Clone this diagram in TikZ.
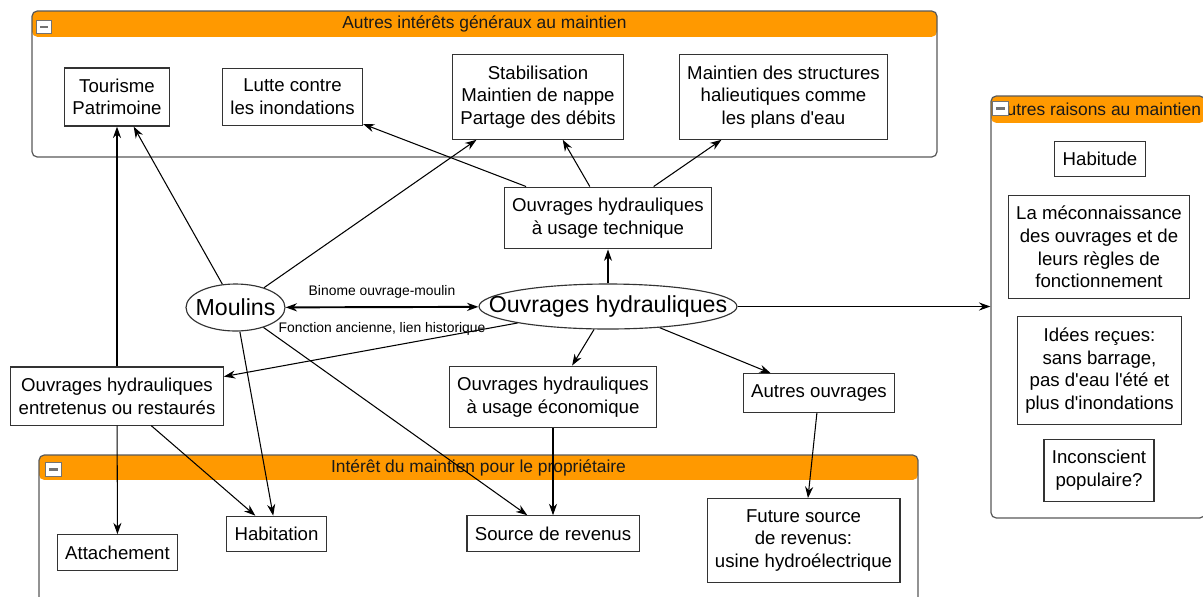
\documentclass[tikz,border=0pt]{standalone}
\usepackage{fontspec}
\setmainfont{Liberation Sans}
\usepackage{xcolor}
\usepackage{tikz}
\usetikzlibrary{arrows.meta,shapes.geometric,fit}

\definecolor{hdr}{RGB}{255,153,0}

\begin{document}
\begin{tikzpicture}[
x=0.02cm, y=-0.02cm,
>={Stealth[length=6.5pt,width=4.6pt]},
every node/.style={font=\fontsize{10.6}{12.9}\selectfont},
box/.style={rectangle,draw=black!80,line width=0.65pt,fill=white,align=center,inner xsep=4.5pt,inner ysep=6.2pt},
oval/.style={ellipse,draw=black!80,line width=0.65pt,fill=white,inner sep=-30pt,font=\fontsize{13.2}{15}\selectfont},
panel/.style={draw=black!65,line width=0.7pt,rounded corners=3pt,inner sep=0pt,fill=white,
  path picture={\fill[hdr] (path picture bounding box.north west) rectangle ([yshift=-#1]path picture bounding box.north east);}},
panel/.default=14.7pt,
heading/.style={font=\fontsize{9.9}{12}\selectfont,text=black!90},
collapse/.style={draw=black!55,fill=white,minimum width=8.8pt,minimum height=7.6pt,inner sep=0pt,
  path picture={\draw[line width=1.6pt] ([xshift=2pt]path picture bounding box.west) -- ([xshift=-2pt]path picture bounding box.east);}},
edgetext/.style={font=\fontsize{7.9}{9.5}\selectfont},
link/.style={->,line width=0.6pt}
]

\clip (0,0) rectangle (1203,596);

% Groups
\node[panel] (interets) [fit={(32,11) (937,157)}] {};
\node[heading] (interets-t) at (484.5,24) {Autres intérêts généraux au maintien};
\node[collapse] (interets-c) at (44,27) {};

\node[panel=15.3pt] (raisons) [fit={(991,96) (1205,518)}] {};
\node[heading] (raisons-t) at (1098,109.5) {Autres raisons au maintien};
\node[collapse] (raisons-c) at (1000.5,108.5) {};

\node[panel=14.2pt] (proprio) [fit={(39,455) (918,640)}] {};
\node[heading] (proprio-t) at (478.5,467.5) {Intérêt du maintien pour le propriétaire};
\node[collapse] (proprio-c) at (53.5,469.5) {};

% Autres interets
\node[box] (tourisme) at (117,97) {Tourisme\\Patrimoine};
\node[box] (lutte) at (292.5,97) {Lutte contre\\les inondations};
\node[box] (stabil) at (538,97) {Stabilisation\\Maintien de nappe\\Partage des débits};
\node[box] (halieut) at (783.5,97) {Maintien des structures\\halieutiques comme\\les plans d\textquotesingle eau};

% Autres raisons
\node[box] (habitude) at (1100,159) {Habitude};
\node[box] (meconn) at (1099,247) {La méconnaissance\\des ouvrages et de\\leurs règles de\\fonctionnement};
\node[box] (idees) at (1099.5,370.5) {Idées reçues:\\sans barrage,\\pas d\textquotesingle eau l\textquotesingle été et\\plus d\textquotesingle inondations};
\node[box] (inconsc) at (1099,470.5) {Inconscient\\populaire?};

% Centre
\node[box] (technique) at (608,218) {Ouvrages hydrauliques\\à usage technique};
\node[oval,minimum width=1.98cm,minimum height=0.94cm] (moulins) at (235.5,307.5) {Moulins};
\node[oval,minimum width=5.16cm,minimum height=0.9cm] (ouvrages) at (608,306.5) {Ouvrages hydrauliques};
\node[box] (entretenus) at (117,396) {Ouvrages hydrauliques\\entretenus ou restaurés};
\node[box] (economique) at (553,397) {Ouvrages hydrauliques\\à usage économique};
\node[box] (autres) at (819,393) {Autres ouvrages};

% Interet du proprietaire
\node[box] (attach) at (117.5,552.5) {Attachement};
\node[box] (habitation) at (276.5,534) {Habitation};
\node[box] (revenus) at (553,533.5) {Source de revenus};
\node[box] (future) at (803.5,540.5) {Future source\\de revenus:\\usine hydroélectrique};

% Links
\draw[<->,line width=1.1pt] (moulins) -- node[edgetext,above=1pt]{Binome ouvrage-moulin}
  node[edgetext,below=5pt]{Fonction ancienne, lien historique} (ouvrages);

\draw[link] (moulins) -- (tourisme);
\draw[link] (moulins) -- (stabil);
\draw[link] (moulins) -- (habitation);
\draw[link] (moulins) -- (revenus);

\draw[link] (ouvrages) -- (technique);
\draw[link] (ouvrages) -- (entretenus);
\draw[link] (ouvrages) -- (economique);
\draw[link] (ouvrages) -- (autres);
\draw[link] (ouvrages) -- (ouvrages -| raisons.west);

\draw[link] (technique) -- (lutte);
\draw[link] (technique) -- (stabil);
\draw[link] (technique) -- (halieut);

\draw[link] (entretenus) -- (tourisme);
\draw[link] (entretenus) -- (attach);
\draw[link] (entretenus) -- (habitation);

\draw[link] (economique) -- (revenus);
\draw[link] (autres) -- (future);

\end{tikzpicture}
\end{document}
